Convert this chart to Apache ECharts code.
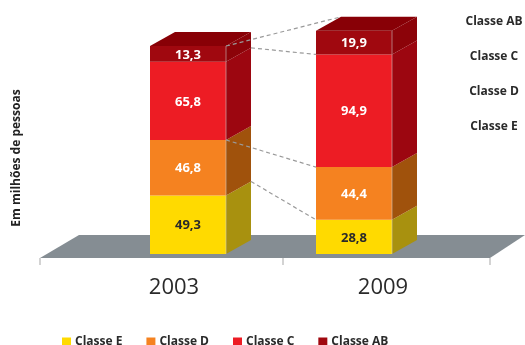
<!DOCTYPE html>
<html>
<head>
<meta charset="utf-8">
<script src="https://cdn.jsdelivr.net/npm/echarts@6/dist/echarts.min.js"></script>
<style>
  html, body { margin: 0; padding: 0; background: #fff; }
  #chart { width: 525px; height: 345px; }
</style>
</head>
<body>
<div id="chart"></div>
<script>
// População por classe social (milhões de pessoas)
const years = ['2003', '2009'];
const classNames = ['Classe E', 'Classe D', 'Classe C', 'Classe AB'];
const classeE = [49.3, 28.8];
const classeD = [46.8, 44.4];
const classeC = [65.8, 94.9];
const classeAB = [13.3, 19.9];
const axisTitle = 'Em milhões de pessoas';

const stackValues = [classeE, classeD, classeC, classeAB];

// face colours, bottom to top of the stack
const frontColors = ['#FFDA00', '#F58220', '#ED1C24', '#A0080F'];
const sideColors = ['#A8910F', '#A0520C', '#9C0610', '#8C0309'];
const topColor = '#880006';
const labelColors = ['#2a2a2a', '#fff', '#fff', '#fff'];

const BAR_W = 76;      // front face width, px
const DEPTH_X = 25;    // 3D depth offset, px
const DEPTH_Y = -14;

// cumulative boundaries: bounds[k][i] = base of class k for year i
const bounds = [];
{
  let acc = years.map(() => 0);
  for (let k = 0; k <= stackValues.length; k++) {
    bounds.push(acc.slice());
    if (k < stackValues.length) acc = acc.map((a, i) => a + stackValues[k][i]);
  }
}

const fmt = v => v.toFixed(1).replace('.', ',');

function segmentRenderer(k) {
  const isTop = k === stackValues.length - 1;
  return function (params, api) {
    const i = api.value(0);
    const pb = api.coord([i, api.value(1)]);
    const pt = api.coord([i, api.value(2)]);
    const cx = pb[0];
    const xl = cx - BAR_W / 2, xr = cx + BAR_W / 2;
    const yb = pb[1], yt = pt[1];
    const children = [
      { type: 'rect', shape: { x: xl, y: yt, width: BAR_W, height: yb - yt },
        style: { fill: frontColors[k] } },
      { type: 'polygon', shape: { points: [[xr, yt], [xr + DEPTH_X, yt + DEPTH_Y], [xr + DEPTH_X, yb + DEPTH_Y], [xr, yb]] },
        style: { fill: sideColors[k] } },
      { type: 'line', shape: { x1: xr, y1: yt, x2: xr, y2: yb },
        style: { stroke: 'rgba(210,210,210,0.55)', lineWidth: 1 } }
    ];
    if (isTop) {
      children.push({ type: 'polygon',
        shape: { points: [[xl, yt], [xl + DEPTH_X, yt + DEPTH_Y], [xr + DEPTH_X, yt + DEPTH_Y], [xr, yt]] },
        style: { fill: topColor } });
    }
    children.push({ type: 'text',
      style: { text: fmt(api.value(3)), x: cx, y: (yt + yb) / 2 + 1, align: 'center', verticalAlign: 'middle',
        fill: labelColors[k], font: 'bold 13px "Open Sans"' } });
    return { type: 'group', children };
  };
}

const segmentSeries = classNames.map((name, k) => ({
  name,
  type: 'custom',
  xAxisIndex: 0,
  yAxisIndex: 0,
  itemStyle: { color: frontColors[k] },
  encode: { x: 0, y: [1, 2] },
  data: years.map((y, i) => [i, bounds[k][i], bounds[k + 1][i], stackValues[k][i]]),
  renderItem: segmentRenderer(k),
  z: 3
}));

// dashed guides linking the class boundaries of both years
const guideSeries = {
  name: 'guias',
  type: 'custom',
  xAxisIndex: 0,
  yAxisIndex: 0,
  silent: true,
  z: 5,
  data: [[0, 0]],
  renderItem: function (params, api) {
    const nTop = stackValues.length;
    const a = lvl => api.coord([0, bounds[lvl][0]]);
    const b = lvl => api.coord([1, bounds[lvl][1]]);
    const h = BAR_W / 2;
    const seg = (p, q) => ({ type: 'line', shape: { x1: p[0], y1: p[1], x2: q[0], y2: q[1] },
      style: { stroke: '#9a9a9a', lineWidth: 1.2, lineDash: [4, 3] } });
    const t0 = a(nTop), t1 = b(nTop);
    const c0 = a(3), c1 = b(3);
    const d0 = a(2), d1 = b(2);
    const e0 = a(1), e1 = b(1);
    return { type: 'group', children: [
      seg([t0[0] + h, t0[1]], [t1[0] - h + DEPTH_X, t1[1] + DEPTH_Y]),
      seg([c0[0] + h + DEPTH_X, c0[1] + DEPTH_Y], [c1[0] - h, c1[1]]),
      seg([d0[0] + h, d0[1]], [d1[0] - h, d1[1]]),
      seg([e0[0] + h + DEPTH_X, e0[1] + DEPTH_Y], [e1[0] - h, e1[1]])
    ] };
  }
};

const chart = echarts.init(document.getElementById('chart'));
chart.setOption({
  animation: false,
  backgroundColor: '#fff',
  grid: [
    { left: 105, right: 88, top: 16.6, bottom: 91 },
    { left: 69.5, right: 37.5, top: 200, bottom: 87 }
  ],
  xAxis: [
    { type: 'category', gridIndex: 0, data: years, show: false },
    { type: 'category', gridIndex: 1, data: years,
      axisLine: { show: false }, axisTick: { show: false },
      axisLabel: { margin: 19, color: '#2a2a2a', fontSize: 22, fontFamily: 'Open Sans' } }
  ],
  yAxis: [
    { type: 'value', gridIndex: 0, min: 0, max: 200, show: false },
    { type: 'value', gridIndex: 1, show: false }
  ],
  legend: {
    data: classNames,
    left: 57,
    top: 331,
    itemWidth: 9,
    itemHeight: 9,
    itemGap: 24,
    icon: 'rect',
    textStyle: { color: '#2a2a2a', fontSize: 12, fontWeight: 'bold', fontFamily: 'Open Sans', padding: [0, 0, 0, -1] }
  },
  graphic: [
    { type: 'polygon', z: 0, shape: { points: [[40, 258], [79, 235], [525, 235], [490, 258]] },
      style: { fill: '#858D93' } },
    ...[40, 283, 490].map(x => ({ type: 'line', z: 0,
      shape: { x1: x, y1: 258, x2: x, y2: 265 }, style: { stroke: '#c4c4c4', lineWidth: 1.5 } })),
    { type: 'text', z: 10, x: 17, y: 158, rotation: Math.PI / 2,
      style: { text: axisTitle, align: 'center', verticalAlign: 'middle', fill: '#222',
        font: 'bold 12px "Open Sans"' } },
    ...classNames.slice().reverse().map((name, j) => ({ type: 'text', z: 10, x: 494, y: 22 + j * 35,
      style: { text: name, align: 'center', verticalAlign: 'middle', fill: '#2a2a2a',
        font: 'bold 12px "Open Sans"' } }))
  ],
  series: [...segmentSeries, guideSeries]
});
</script>
</body>
</html>
